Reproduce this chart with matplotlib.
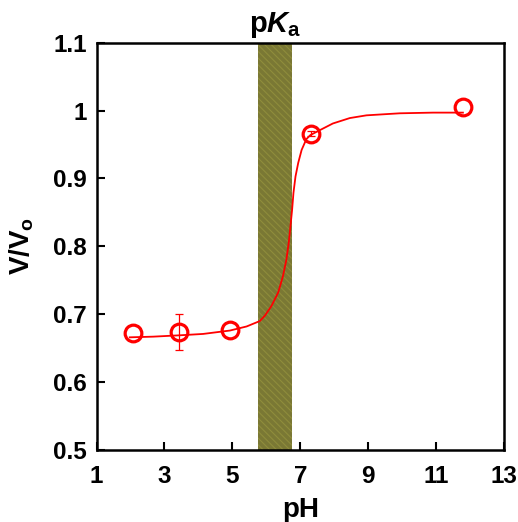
import matplotlib
matplotlib.use("Agg")
import matplotlib.pyplot as plt

plt.rcParams['font.family'] = ['Liberation Sans', 'DejaVu Sans']
plt.rcParams['font.weight'] = 'bold'
plt.rcParams['mathtext.fontset'] = 'custom'
plt.rcParams['mathtext.rm'] = 'Liberation Sans:bold'
plt.rcParams['mathtext.bf'] = 'Liberation Sans:bold'
plt.rcParams['mathtext.it'] = 'Liberation Sans:bold:italic'
plt.rcParams['hatch.color'] = '#8f8d3c'
plt.rcParams['hatch.linewidth'] = 0.8

# measured points
ph_pts = [2.06, 3.44, 4.93, 7.33, 11.79]
v_pts = [0.673, 0.674, 0.677, 0.966, 1.005]
v_err = [0.0, 0.027, 0.0, 0.004, 0.0]

# fitted curve
ph_fit = [1.98, 2.67, 3.46, 4.14, 4.93, 5.42, 5.81, 5.96, 6.15, 6.35, 6.49, 6.59,
          6.66, 6.71, 6.76, 6.80, 6.86, 6.94, 7.04, 7.18, 7.30, 7.57, 7.96, 8.46,
          8.95, 9.93, 10.91, 11.79]
v_fit = [0.666, 0.667, 0.669, 0.671, 0.676, 0.682, 0.690, 0.698, 0.712, 0.732,
         0.756, 0.780, 0.805, 0.829, 0.854, 0.879, 0.903, 0.923, 0.942, 0.958,
         0.964, 0.971, 0.981, 0.989, 0.993, 0.996, 0.997, 0.997]

# pKa band
pka_range = [5.75, 6.75]

fig = plt.figure(figsize=(5.18, 5.22), dpi=100)
ax = fig.add_axes([0.1863, 0.1379, 0.7867, 0.7803])

ax.axvspan(pka_range[0], pka_range[1], facecolor='#7a7834', edgecolor='#8f8d3c',
           hatch='\\\\\\\\\\', linewidth=0, zorder=1)

ax.plot(ph_fit, v_fit, color='red', lw=1.3, zorder=3)

ex = [p for p, e in zip(ph_pts, v_err) if e > 0]
ey = [v for v, e in zip(v_pts, v_err) if e > 0]
ee = [e for e in v_err if e > 0]
ax.errorbar(ex, ey, yerr=ee, fmt='none', ecolor='red', elinewidth=0.9,
            capsize=3, capthick=0.9, zorder=4)
ax.plot(ph_pts, v_pts, 'o', mfc='none', mec='red', ms=12, mew=2.3, zorder=5)

ax.set_xlim(1, 13)
ax.set_ylim(0.5, 1.1)
ax.set_xticks([1, 3, 5, 7, 9, 11, 13])
ax.set_xticklabels(['1', '3', '5', '7', '9', '11', '13'])
ax.set_yticks([0.5, 0.6, 0.7, 0.8, 0.9, 1.0, 1.1])
ax.set_yticklabels(['0.5', '0.6', '0.7', '0.8', '0.9', '1', '1.1'])
ax.tick_params(direction='in', length=6, width=1.5, labelsize=17.5,
               top=False, right=False)
ax.tick_params(axis='x', pad=11)
ax.tick_params(axis='y', pad=7)
for lab in ax.get_xticklabels() + ax.get_yticklabels():
    lab.set_fontweight('bold')
for s in ax.spines.values():
    s.set_linewidth(1.8)

ax.set_xlabel('pH', fontsize=20, fontweight='bold', labelpad=6)
ax.set_ylabel(r'V/V$_\mathbf{o}$', fontsize=20, fontweight='bold', labelpad=12)

ax.text(sum(pka_range) / 2, 1.104, r'$\mathbf{p}\mathit{K}_\mathbf{a}$',
        fontsize=21, ha='center', va='bottom')

fig.savefig('out.png', dpi=100)
